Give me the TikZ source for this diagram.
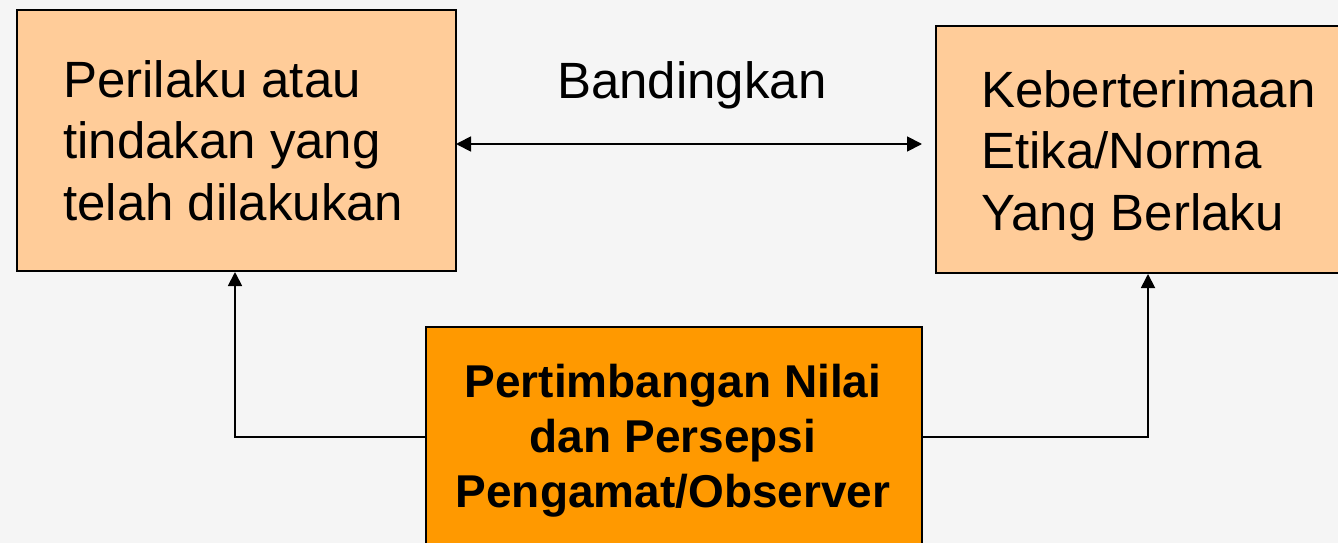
\documentclass[tikz,border=0pt]{standalone}
\usepackage{fontspec}
\setmainfont{Liberation Sans}
\newfontfamily\boxfont{Liberation Sans}
\newfontfamily\midfont{Liberation Sans Bold}
\usetikzlibrary{arrows.meta}
\definecolor{bg}{HTML}{F5F5F5}
\definecolor{peach}{HTML}{FFCC99}
\definecolor{orangebox}{HTML}{FF9900}
\tikzset{
  boxstyle/.style={draw=black, line width=2pt, inner sep=0pt, anchor=north west},
  lineA/.style={font=\boxfont\fontsize{51}{61}\selectfont, anchor=base west, inner sep=0pt},
  lineB/.style={font=\midfont\fontsize{46}{55}\selectfont, anchor=base, inner sep=0pt},
  conn/.style={line width=1.8pt, draw=black},
  tip/.style={-{Triangle[length=14pt,width=14pt]}},
}
\begin{document}
\begin{tikzpicture}[x=1pt,y=-1pt]
\useasboundingbox (0,0) rectangle (1338,543);
\fill[bg] (0,0) rectangle (1338,543);
% boxes
\node[boxstyle, fill=peach, minimum width=439pt, minimum height=261pt] (lbox) at (16,9) {};
\node[boxstyle, fill=peach, minimum width=420pt, minimum height=247pt] (rbox) at (935,25) {};
\node[boxstyle, fill=orangebox, minimum width=496pt, minimum height=240pt] (mbox) at (425,326) {};
% left text
\node[lineA] (l1) at (63,97) {Perilaku atau};
\node[lineA] (l2) at (63,158.5) {tindakan yang};
\node[lineA] (l3) at (63,220) {telah dilakukan};
% right text
\node[lineA] (r1) at (981,107) {Keberterimaan};
\node[lineA] (r2) at (981,168.5) {Etika/Norma};
\node[lineA] (r3) at (981,230) {Yang Berlaku};
% middle text
\node[lineB] (m1) at (673,397) {Pertimbangan Nilai};
\node[lineB] (m2) at (673,452) {dan Persepsi};
\node[lineB] (m3) at (673,507) {Pengamat/Observer};
% compare label
\node[lineA] (cmp) at (557,98) {Bandingkan};
% connectors
\coordinate (a1) at (456,144);
\coordinate (a2) at (922,144);
\draw[conn, {Triangle[length=15pt,width=15pt]}-{Triangle[length=15pt,width=15pt]}] (a1) -- (a2);
\coordinate (jl) at (235,437);
\coordinate (jr) at (1148,437);
\draw[conn, tip] (mbox.west |- jl) -- (jl) -- (jl |- lbox.south);
\draw[conn, tip] (mbox.east |- jr) -- (jr) -- (jr |- rbox.south);
\end{tikzpicture}
\end{document}
